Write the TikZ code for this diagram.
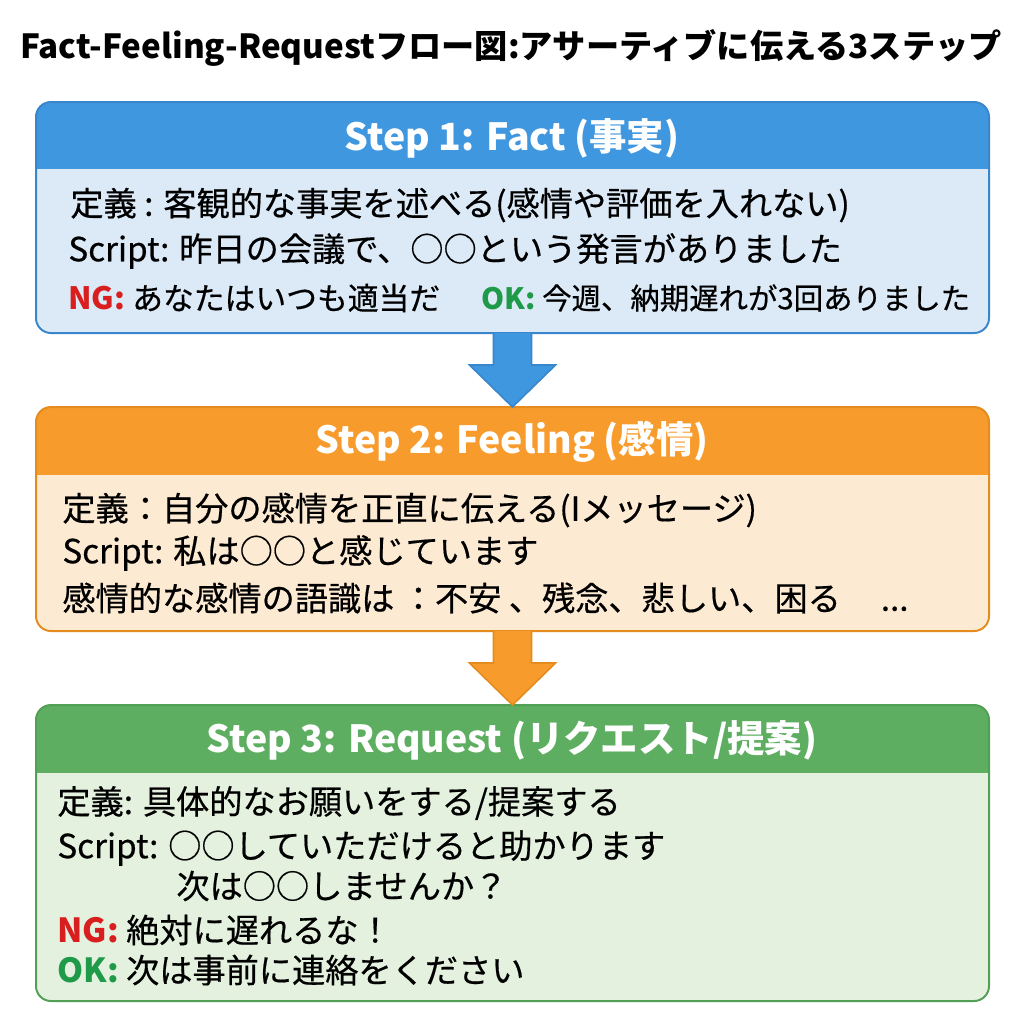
\documentclass[tikz,border=0pt]{standalone}
\usepackage{fontspec}
\setmainfont{Noto Sans CJK JP}[UprightFeatures={FakeBold=0.5}]
\usetikzlibrary{fit,calc}
\definecolor{hblue}{HTML}{3F97E0}
\definecolor{bblue}{HTML}{DCEAF8}
\definecolor{eblue}{HTML}{3A86CC}
\definecolor{horange}{HTML}{F79B2C}
\definecolor{borange}{HTML}{FDEAD3}
\definecolor{eorange}{HTML}{E58C1E}
\definecolor{hgreen}{HTML}{5EAE62}
\definecolor{bgreen}{HTML}{E3F1DE}
\definecolor{egreen}{HTML}{52A056}
\definecolor{ngred}{HTML}{D81E1E}
\definecolor{okgreen}{HTML}{1E9A48}
\tikzset{
  boxnode/.style={rounded corners=7.5pt, inner sep=0pt, line width=1pt},
  hdrtext/.style={font=\fontsize{18.7}{20}\selectfont\bfseries, text=white, inner sep=0pt},
  bodytext/.style={font=\fontsize{16.6}{18}\selectfont, anchor=west, inner sep=0pt},
  titletext/.style={font=\fontsize{16.6}{18}\selectfont\bfseries, inner sep=0pt},
  arrowshape/.style={line width=0.8pt, line join=miter},
}
\newcommand{\ngl}{\textcolor{ngred}{\bfseries NG:}}
\newcommand{\okl}{\textcolor{okgreen}{\bfseries OK:}}
\begin{document}
\begin{tikzpicture}[x=0.5pt,y=-0.5pt]
\useasboundingbox[fill=white] (0,0) rectangle (1024,1024);

\node[titletext] (title) at (511,48) {Fact-Feeling-Requestフロー図:アサーティブに伝える3ステップ};

% Box 1
\node[boxnode, fill=bblue, fit={(37,103)(988,332)}] (b1) {};
\begin{scope}
  \clip[rounded corners=7.5pt] (b1.south west) rectangle (b1.north east);
  \fill[hblue] (b1.north west) rectangle (988,169);
\end{scope}
\draw[boxnode, eblue] (b1.south west) rectangle (b1.north east);
\node[hdrtext] (h1) at (512,138) {Step 1: Fact (事実)};
\node[bodytext] (t11) at (70,205) {定義 : 客観的な事実を述べる(感情や評価を入れない)};
\node[bodytext] (t12) at (68,251) {Script: 昨日の会議で、○○という発言がありました};
\node[bodytext, font=\fontsize{15.4}{17}\selectfont] (t13) at (68,298) {\ngl{} あなたはいつも適当だ};
\node[bodytext, font=\fontsize{14.7}{17}\selectfont] (t14) at (481,298) {\okl{} 今週、納期遅れが3回ありました};

% Box 2
\node[boxnode, fill=borange, fit={(37,408)(988,630)}] (b2) {};
\begin{scope}
  \clip[rounded corners=7.5pt] (b2.south west) rectangle (b2.north east);
  \fill[horange] (b2.north west) rectangle (988,475);
\end{scope}
\draw[boxnode, eorange] (b2.south west) rectangle (b2.north east);
\node[hdrtext] (h2) at (512,442) {Step 2: Feeling (感情)};
\node[bodytext] (t21) at (62,510) {定義：自分の感情を正直に伝える(Iメッセージ)};
\node[bodytext] (t22) at (62,553) {Script: 私は○○と感じています};
\node[bodytext] (t23) at (62,598) {感情的な感情の語識は ：不安 、残念、悲しい、困る\hspace{20pt}...};

% Box 3
\node[boxnode, fill=bgreen, fit={(37,706)(988,1000)}] (b3) {};
\begin{scope}
  \clip[rounded corners=7.5pt] (b3.south west) rectangle (b3.north east);
  \fill[hgreen] (b3.north west) rectangle (988,773);
\end{scope}
\draw[boxnode, egreen] (b3.south west) rectangle (b3.north east);
\node[hdrtext] (h3) at (512,740) {Step 3: Request (リクエスト/提案)};
\node[bodytext] (t31) at (57,803) {定義: 具体的なお願いをする/提案する};
\node[bodytext] (t32) at (57,848) {Script: ○○していただけると助かります};
\node[bodytext] (t33) at (176,886) {次は○○しませんか？};
\node[bodytext] (t34) at (57,930) {\ngl{} 絶対に遅れるな！};
\node[bodytext] (t35) at (57,970) {\okl{} 次は事前に連絡をください};

% Arrows
\filldraw[arrowshape, fill=hblue, draw=eblue]
  ($(b1.south)+(-19,0)$) -- ($(b2.north)+(-19,-42)$) -- ($(b2.north)+(-43,-42)$) -- (b2.north)
  -- ($(b2.north)+(43,-42)$) -- ($(b2.north)+(19,-42)$) -- ($(b1.south)+(19,0)$);
\filldraw[arrowshape, fill=horange, draw=eorange]
  ($(b2.south)+(-19,0)$) -- ($(b3.north)+(-19,-42)$) -- ($(b3.north)+(-43,-42)$) -- (b3.north)
  -- ($(b3.north)+(43,-42)$) -- ($(b3.north)+(19,-42)$) -- ($(b2.south)+(19,0)$);
\end{tikzpicture}
\end{document}
